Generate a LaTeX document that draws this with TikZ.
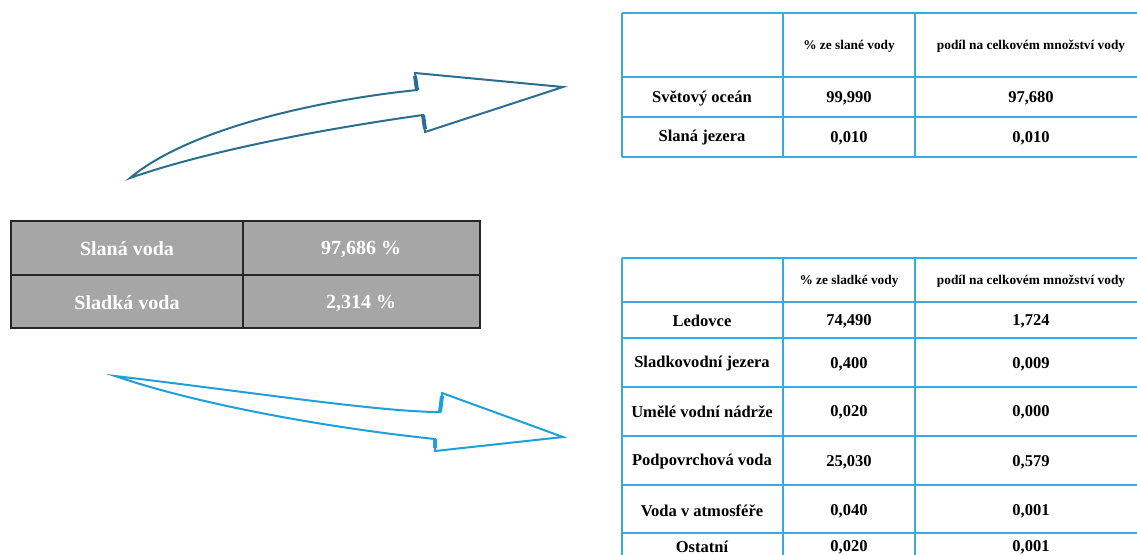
\documentclass[tikz,border=0pt]{standalone}
\usepackage{fontspec}
\setmainfont{Liberation Serif}
\definecolor{tblue}{HTML}{3AAAE3}
\definecolor{darr}{HTML}{2A6F90}
\definecolor{larr}{HTML}{1EA0DA}
\definecolor{cellgray}{HTML}{A6A6A6}
\begin{document}
\begin{tikzpicture}[x=0.75pt,y=-0.75pt,
  cell/.style={font=\fontsize{12.4}{14}\selectfont\bfseries, inner sep=0pt},
  head/.style={font=\fontsize{10}{12}\selectfont\bfseries, inner sep=0pt},
  big/.style={font=\fontsize{15}{17}\selectfont\bfseries, text=white, inner sep=0pt},
  grid/.style={draw=tblue, line width=1.2pt},
  arrowline/.style={line width=1.5pt, line join=miter},
  barb/.style={line width=3pt}]
\useasboundingbox (0,0) rectangle (1137,554);
\clip (0,0) rectangle (1137,554);

% left table
\fill[cellgray] (11,221) rectangle (480,328);
\draw[line width=1.2pt, draw=black!85] (11,221) rectangle (480,328) (243,221)--(243,328) (11,275)--(480,275);
\node[big] (lt11) at (127,249) {Slaná voda};
\node[big] (lt12) at (361,249) {97,686 \%};
\node[big] (lt21) at (127,303) {Sladká voda};
\node[big] (lt22) at (361,303) {2,314 \%};

% top-right table
\draw[grid] (622,13)--(1145,13) (622,77)--(1145,77) (622,117)--(1145,117) (622,157)--(1145,157)
  (622,13)--(622,157) (783,13)--(783,157) (915,13)--(915,157);
\node[head] (th2) at (849,46) {\% ze slané vody};
\node[head] (th3) at (1031,46) {podíl na celkovém množství vody};
\node[cell] (ta1) at (702,98) {Světový oceán};
\node[cell] (ta2) at (849,98) {99,990};
\node[cell] (ta3) at (1031,98) {97,680};
\node[cell] (tb1) at (702,138) {Slaná jezera};
\node[cell] (tb2) at (849,138) {0,010};
\node[cell] (tb3) at (1031,138) {0,010};

% bottom-right table
\draw[grid] (622,258)--(1145,258) (622,302)--(1145,302) (622,338)--(1145,338) (622,387)--(1145,387)
  (622,436)--(1145,436) (622,485)--(1145,485) (622,533)--(1145,533)
  (622,258)--(622,560) (783,258)--(783,560) (915,258)--(915,560);
\node[head] (bh2) at (849,281) {\% ze sladké vody};
\node[head] (bh3) at (1031,281) {podíl na celkovém množství vody};
\node[cell] (b11) at (702,321) {Ledovce};
\node[cell] (b12) at (849,321) {74,490};
\node[cell] (b13) at (1031,321) {1,724};
\node[cell] (b21) at (702,364) {Sladkovodní jezera};
\node[cell] (b22) at (849,364) {0,400};
\node[cell] (b23) at (1031,364) {0,009};
\node[cell] (b31) at (702,412) {Umělé vodní nádrže};
\node[cell] (b32) at (849,412) {0,020};
\node[cell] (b33) at (1031,412) {0,000};
\node[cell] (b41) at (702,462) {Podpovrchová voda};
\node[cell] (b42) at (849,462) {25,030};
\node[cell] (b43) at (1031,462) {0,579};
\node[cell] (b51) at (702,511) {Voda v atmosféře};
\node[cell] (b52) at (849,511) {0,040};
\node[cell] (b53) at (1031,511) {0,001};
\node[cell] (b61) at (702,547) {Ostatní};
\node[cell] (b62) at (849,547) {0,020};
\node[cell] (b63) at (1031,547) {0,001};

% top arrow
\draw[darr, arrowline] (130,178) .. controls (190,128) and (320,100) .. (417,90) -- (415,73) -- (563,87)
  -- (425,132) -- (423,115) .. controls (330,128) and (210,150) .. (130,178) -- cycle;
\draw[darr, barb] (417,90) -- (415,76) (425,129) -- (423,115);

% bottom arrow
\draw[larr, arrowline] (115,376) .. controls (250,392) and (380,412) .. (440,412) -- (442,393) -- (563,437)
  -- (435,451) -- (435,439) .. controls (330,428) and (200,405) .. (115,376) -- cycle;
\draw[larr, barb] (440,412) -- (442,396) (435,448) -- (435,439);
\end{tikzpicture}
\end{document}
